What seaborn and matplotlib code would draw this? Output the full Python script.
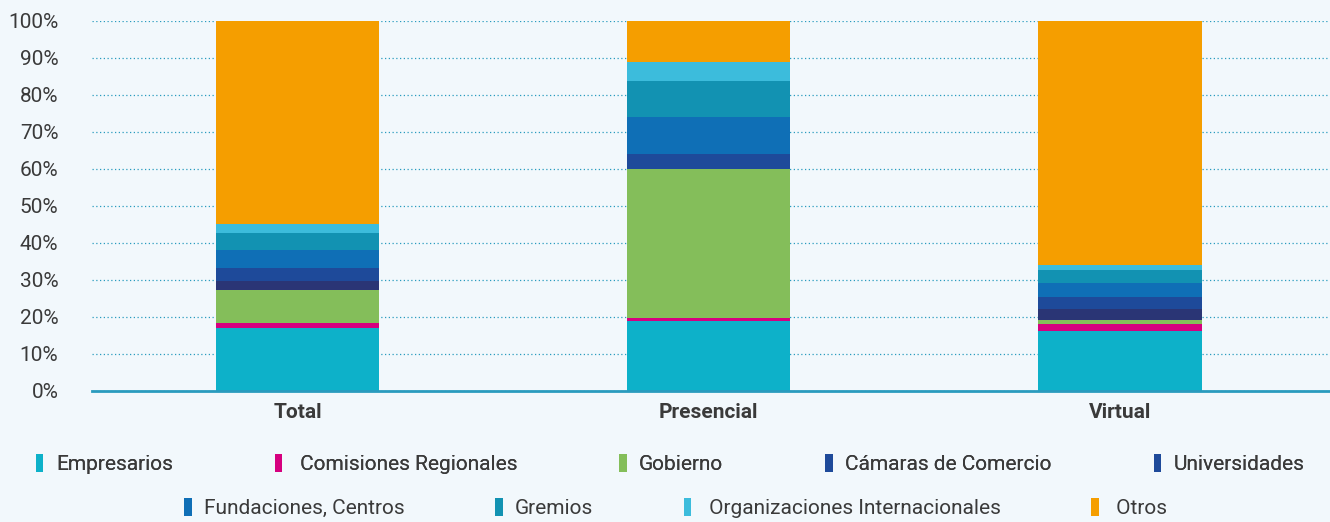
#!/usr/bin/env python3
# stacked share of participants by type and modality

import numpy as np
import pandas as pd
import matplotlib
matplotlib.use("Agg")
import matplotlib.pyplot as plt
from matplotlib.patches import Patch
import seaborn as sns

categories = ["Total", "Presencial", "Virtual"]

series_names = [
    "Empresarios", "Comisiones Regionales", "Gobierno", "Cámaras de Comercio",
    "Universidades", "Fundaciones, Centros", "Gremios",
    "Organizaciones Internacionales", "Otros",
]

empresarios = [16.9, 19.0, 16.2]
comisiones = [1.5, 0.8, 1.9]
gobierno = [8.8, 40.1, 1.1]
camaras = [2.4, 0.0, 2.9]
universidades = [3.6, 4.1, 3.4]
fundaciones = [4.8, 9.9, 3.6]
gremios = [4.8, 9.9, 3.5]
org_internacionales = [2.4, 5.0, 1.4]
otros = [55.0, 11.2, 66.0]

colors = ["#0DB1C9", "#D6007F", "#84BE5A", "#2A3575", "#1E4A9A",
          "#0F6FB6", "#1292B2", "#3CBCDC", "#F59E00"]
legend_colors = ["#0DB1C9", "#D6007F", "#84BE5A", "#1E4A9A", "#1E4A9A",
                 "#0F6FB6", "#1292B2", "#3CBCDC", "#F59E00"]

bg = "#F2F8FC"
text_color = "#3A3A3A"
grid_color = "#2A9BBE"

sns.set_theme(style="white")
plt.rcParams["font.family"] = ["Roboto", "DejaVu Sans"]

values = np.array([empresarios, comisiones, gobierno, camaras, universidades,
                   fundaciones, gremios, org_internacionales, otros])
tops = values.cumsum(axis=0)

fig = plt.figure(figsize=(13.3, 5.22), dpi=100, facecolor=bg)
ax = fig.add_axes([0.069, 0.251, 0.931, 0.709], facecolor=bg)

# draw cumulative bars from the top down so each one covers the ones above
for i in range(len(series_names) - 1, -1, -1):
    df = pd.DataFrame({"cat": categories, "top": tops[i]})
    sns.barplot(data=df, x="cat", y="top", color=colors[i], width=0.397,
                saturation=1, linewidth=0, ax=ax, zorder=2)

ax.set_xlim(-0.501, 2.511)
ax.set_ylim(0, 100)
ax.set_yticks(range(0, 101, 10))
ax.set_yticklabels([f"{v}%" for v in range(0, 101, 10)])
ax.set_xlabel("")
ax.set_ylabel("")
ax.yaxis.grid(True, linestyle=(0, (1, 2)), color=grid_color, linewidth=0.9, zorder=0)
ax.xaxis.grid(False)
ax.set_axisbelow(True)

for side in ["top", "right", "left"]:
    ax.spines[side].set_visible(False)
ax.spines["bottom"].set_color(grid_color)
ax.spines["bottom"].set_linewidth(2)
ax.spines["bottom"].set_zorder(3)

ax.tick_params(axis="y", length=0, pad=24, labelsize=15, labelcolor=text_color)
ax.tick_params(axis="x", length=0, pad=9, labelsize=15, labelcolor=text_color)
for lbl in ax.get_yticklabels():
    lbl.set_horizontalalignment("right")
for lbl in ax.get_xticklabels():
    lbl.set_fontweight("bold")

labels = ["Empresarios", " Comisiones Regionales", "Gobierno", "Cámaras de Comercio",
          "Universidades", "Fundaciones, Centros", "Gremios",
          " Organizaciones Internacionales", " Otros"]
handles = [Patch(facecolor=c, edgecolor="none") for c in legend_colors]

leg_kw = dict(loc="center", frameon=False, fontsize=15, handlelength=0.35,
              handleheight=1.0, handletextpad=0.6, labelcolor=text_color)
leg1 = fig.legend(handles[:5], labels[:5], ncol=5, columnspacing=4.9,
                  bbox_to_anchor=(0.504, 0.111), **leg_kw)
fig.add_artist(leg1)
fig.legend(handles[5:], labels[5:], ncol=4, columnspacing=4.35,
           bbox_to_anchor=(0.508, 0.027), **leg_kw)

fig.savefig("out.png", dpi=100, facecolor=bg)
